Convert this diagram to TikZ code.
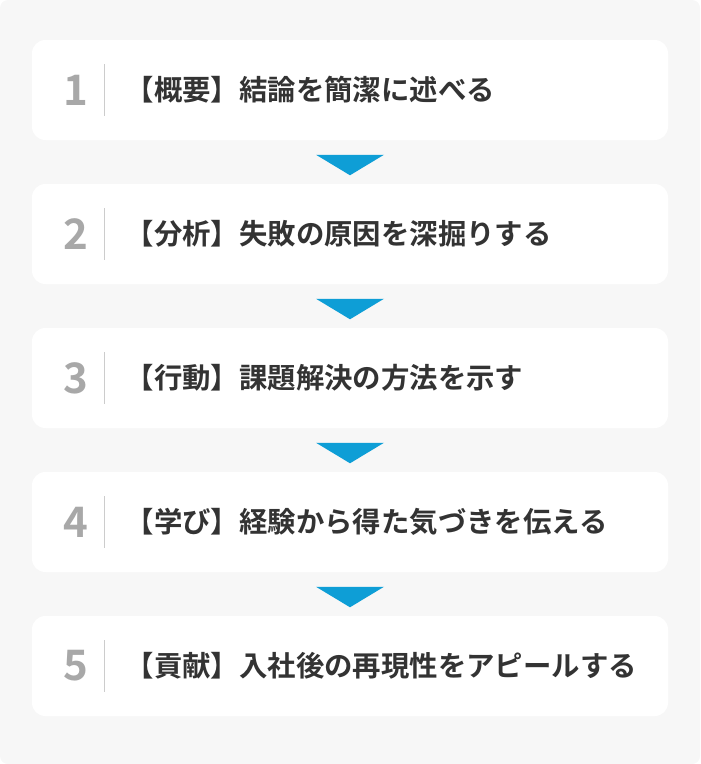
\documentclass[tikz,border=0pt]{standalone}
\usepackage{fontspec}
\setmainfont{Noto Sans CJK JP}[BoldFont={Noto Sans CJK JP Bold}]
\usetikzlibrary{calc}
\definecolor{pagebg}{HTML}{F7F7F7}
\definecolor{stepblue}{HTML}{0E9ED6}
\definecolor{numgray}{HTML}{A8A8A8}
\definecolor{textdark}{HTML}{333333}
\definecolor{sepgray}{HTML}{CCCCCC}
\begin{document}
\begin{tikzpicture}[x=0.75pt,y=-0.75pt,
  stepbox/.style={fill=white,rounded corners=10pt,minimum width=477pt,minimum height=75pt,inner sep=0pt},
  stepnum/.style={text=numgray,font=\fontsize{31.5}{36}\selectfont\bfseries,inner sep=0pt},
  steptext/.style={text=textdark,font=\fontsize{21.3}{25}\selectfont\bfseries,anchor=west,inner sep=0pt},
  tri/.style={fill=stepblue}]
  \fill[pagebg,rounded corners=6pt] (0,0) rectangle (700,764);
  \foreach \i/\label in {1/【概要】結論を簡潔に述べる,2/【分析】失敗の原因を深掘りする,
      3/【行動】課題解決の方法を示す,4/【学び】経験から得た気づきを伝える,
      5/【貢献】入社後の再現性をアピールする}{
    \node[stepbox] (box\i) at (350,{90+144*(\i-1)}) {};
    \node[stepnum] (num\i) at (75.5,{90+144*(\i-1)}) {\i};
    \draw[sepgray,line width=1.1pt] ($(box\i.west)+(73,-26)$) -- ($(box\i.west)+(73,26)$);
    \node[steptext] (txt\i) at (125.5,{90+144*(\i-1)}) {\label};
  }
  \foreach \i in {1,...,4}
    \fill[tri] ($(box\i.south)+(-34,14.5)$) -- ($(box\i.south)+(34,14.5)$)
      -- ($(box\i.south)+(0,35)$) -- cycle;
\end{tikzpicture}
\end{document}
